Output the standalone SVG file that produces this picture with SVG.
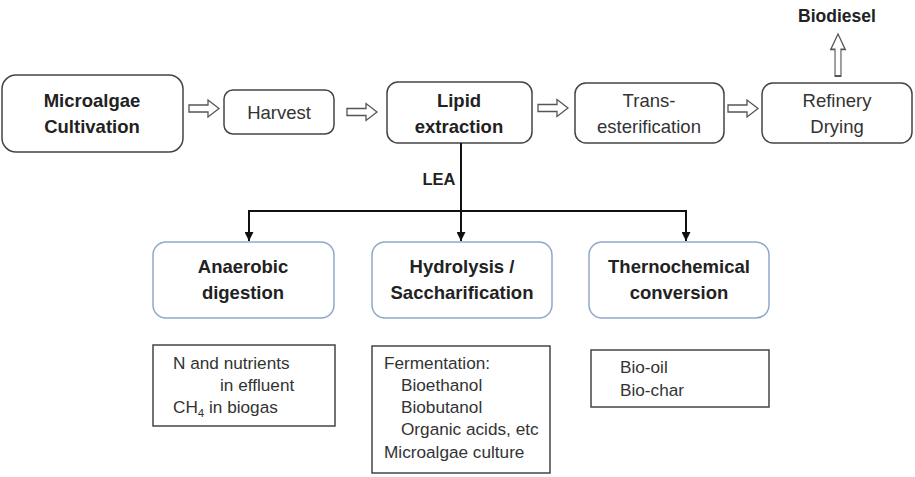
<svg xmlns="http://www.w3.org/2000/svg" xmlns:xlink="http://www.w3.org/1999/xlink" width="915" height="477" viewBox="0 0 915 477">
<style>
  .box{fill:#fff;stroke:#444;stroke-width:1.5}
  .bbox{fill:#fff;stroke:#8ea9c8;stroke-width:1.5}
  .obox{fill:#fff;stroke:#444;stroke-width:1.5}
  .b{font-family:"Liberation Sans",Arial,sans-serif;font-weight:bold;font-size:18.5px;fill:#222;text-anchor:middle}
  .r{font-family:"Liberation Sans",Arial,sans-serif;font-size:18.5px;fill:#333;text-anchor:middle}
  .s{font-family:"Liberation Sans",Arial,sans-serif;font-size:17.2px;fill:#333}
  .harrow{fill:#fff;stroke:#555;stroke-width:1.3}
  .conn{fill:none;stroke:#111;stroke-width:2}
</style>
<defs>
  <path id="blk" d="M0,-3.5 H19 V-8.5 L30,0 L19,8.5 V3.5 H0 Z"/>
  <marker id="ah" viewBox="0 0 10 10" refX="10" refY="5" markerWidth="4.5" markerHeight="4.5" orient="auto">
    <path d="M0,0 L10,5 L0,10 Z" fill="#111"/>
  </marker>
</defs>

<g id="cultivation">
  <rect class="box" x="2" y="75" width="181" height="77" rx="14"/>
  <text class="b" x="92" y="107">Microalgae</text>
  <text class="b" x="92" y="133">Cultivation</text>
</g>
<g id="harvest">
  <rect class="box" x="224" y="90" width="110" height="44" rx="9"/>
  <text class="r" x="279" y="119">Harvest</text>
</g>
<g id="lipid">
  <rect class="box" x="387" y="82" width="145" height="61" rx="11"/>
  <text class="b" x="459" y="107">Lipid</text>
  <text class="b" x="459" y="133">extraction</text>
</g>
<g id="trans">
  <rect class="box" x="575" y="83" width="149" height="60" rx="11"/>
  <text class="r" x="649" y="107">Trans-</text>
  <text class="r" x="649" y="133">esterification</text>
</g>
<g id="refinery">
  <rect class="box" x="762" y="83" width="150" height="60" rx="11"/>
  <text class="r" x="837" y="107">Refinery</text>
  <text class="r" x="837" y="133">Drying</text>
</g>
<g id="biodiesel">
  <text class="b" x="837" y="22" style="font-size:17.5px">Biodiesel</text>
</g>

<g id="anaerobic">
  <rect class="bbox" x="153" y="242" width="181" height="76" rx="13"/>
  <text class="b" x="243" y="273">Anaerobic</text>
  <text class="b" x="243" y="299">digestion</text>
</g>
<g id="hydrolysis">
  <rect class="bbox" x="372" y="242" width="180" height="76" rx="13"/>
  <text class="b" x="462" y="273">Hydrolysis /</text>
  <text class="b" x="462" y="299">Saccharification</text>
</g>
<g id="thermochemical">
  <rect class="bbox" x="589" y="242" width="180" height="76" rx="13"/>
  <text class="b" x="679" y="273">Thernochemical</text>
  <text class="b" x="679" y="299">conversion</text>
</g>

<g id="anaerobic-products">
  <rect class="obox" x="153" y="345" width="182" height="81"/>
  <text class="s" x="173" y="369">N and nutrients</text>
  <text class="s" x="220" y="391">in effluent</text>
  <text class="s" x="173" y="413">CH<tspan font-size="11.5" dy="4">4</tspan><tspan dy="-4"> in biogas</tspan></text>
</g>
<g id="hydrolysis-products">
  <rect class="obox" x="372" y="346" width="178" height="127"/>
  <text class="s" x="384" y="369">Fermentation:</text>
  <text class="s" x="401" y="391">Bioethanol</text>
  <text class="s" x="401" y="413">Biobutanol</text>
  <text class="s" x="401" y="435">Organic acids, etc</text>
  <text class="s" x="384" y="458">Microalgae culture</text>
</g>
<g id="thermo-products">
  <rect class="obox" x="591" y="350" width="178" height="57"/>
  <text class="s" x="620" y="373">Bio-oil</text>
  <text class="s" x="620" y="396">Bio-char</text>
</g>

<g id="connectors">
  <use xlink:href="#blk" class="harrow" transform="translate(189,108.5)"/>
  <use xlink:href="#blk" class="harrow" transform="translate(347,112)"/>
  <use xlink:href="#blk" class="harrow" transform="translate(538,108)"/>
  <use xlink:href="#blk" class="harrow" transform="translate(728,108.5)"/>
  <use xlink:href="#blk" class="harrow" transform="translate(838,76) rotate(-90) scale(1.4,0.85)"/>
  <path class="conn" d="M461,143 V241" marker-end="url(#ah)"/>
  <path class="conn" d="M249,211 H686"/>
  <path class="conn" d="M249,210 V241" marker-end="url(#ah)"/>
  <path class="conn" d="M686,210 V241" marker-end="url(#ah)"/>
  <text class="b" x="439" y="185" style="font-size:16.5px">LEA</text>
</g>
</svg>
